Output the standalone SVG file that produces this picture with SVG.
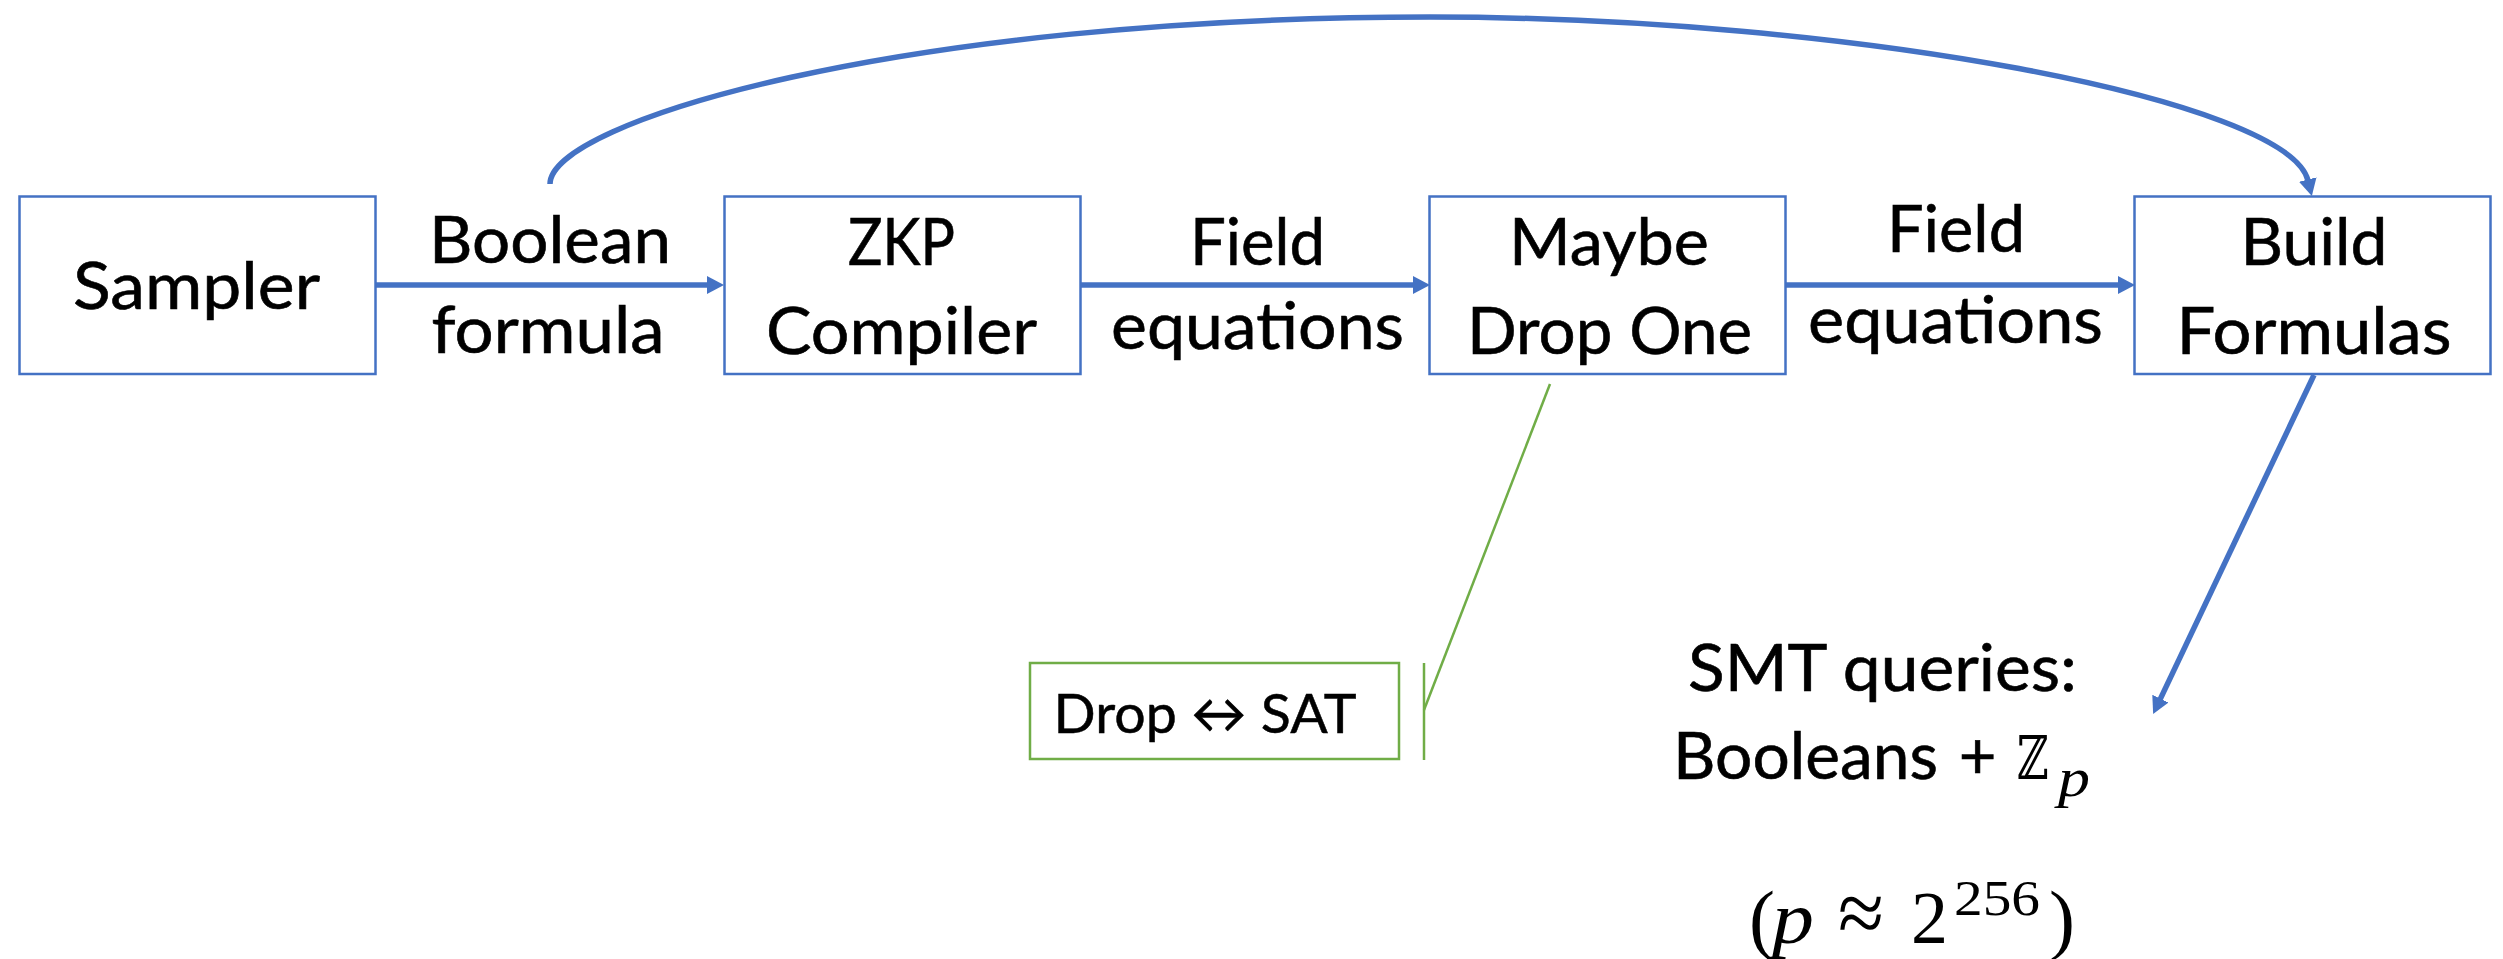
<svg xmlns="http://www.w3.org/2000/svg" width="2503" height="959" viewBox="0 0 2503 959">
<style>
.box{fill:#fff;stroke:#4472C4;stroke-width:2.5}
.lbl{font-family:Lato,"Liberation Sans",sans-serif;font-size:65px;fill:#000;stroke:#000;stroke-width:0.6;text-anchor:middle}
.conn{fill:none;stroke:#4472C4;stroke-width:5.5}
.note{fill:#fff;stroke:#70AD47;stroke-width:2.5}
.gline{fill:none;stroke:#70AD47;stroke-width:2.5}
.math{font-family:"Liberation Serif","DejaVu Serif",serif;fill:#000}
</style>
<defs>
<marker id="ah" markerUnits="userSpaceOnUse" markerWidth="20" markerHeight="20" viewBox="0 -10 20 20" refX="1" refY="0" orient="auto">
<path d="M0,-9 L17,0 L0,9 z" fill="#4472C4"/>
</marker>
</defs>
<rect width="2503" height="959" fill="#fff"/>

<g id="connectors">
<path class="conn" d="M376,285 L708,285" marker-end="url(#ah)"/>
<path class="conn" d="M1081,285 L1414,285" marker-end="url(#ah)"/>
<path class="conn" d="M1786,285 L2119,285" marker-end="url(#ah)"/>
<path class="conn" d="M550,184 C550,122 900,17 1430,17 C1850,17 2288,100 2308,180.5" marker-end="url(#ah)"/>
<path class="conn" d="M2314,375 L2160,699.6" marker-end="url(#ah)"/>
<path class="gline" d="M1550,384 L1424,710"/>
<path class="gline" d="M1424,663 L1424,760"/>
<text class="lbl" x="550" y="263" textLength="242" lengthAdjust="spacingAndGlyphs">Boolean</text>
<text class="lbl" x="548" y="353" textLength="233" lengthAdjust="spacingAndGlyphs">formula</text>
<text class="lbl" x="1257.5" y="265" textLength="135" lengthAdjust="spacingAndGlyphs">Field</text>
<text class="lbl" x="1257.5" y="349" textLength="293" lengthAdjust="spacingAndGlyphs">equations</text>
<text class="lbl" x="1956" y="252" textLength="138" lengthAdjust="spacingAndGlyphs">Field</text>
<text class="lbl" x="1955.5" y="343" textLength="295" lengthAdjust="spacingAndGlyphs">equations</text>
</g>

<g id="sampler">
<rect class="box" x="19.5" y="196.5" width="356" height="177.5"/>
<text class="lbl" x="196.5" y="309" textLength="247" lengthAdjust="spacingAndGlyphs">Sampler</text>
</g>

<g id="zkp-compiler">
<rect class="box" x="724.5" y="196.5" width="356" height="177.5"/>
<text class="lbl" x="901.5" y="265" textLength="107" lengthAdjust="spacingAndGlyphs">ZKP</text>
<text class="lbl" x="901.5" y="354" textLength="271" lengthAdjust="spacingAndGlyphs">Compiler</text>
</g>

<g id="maybe-drop-one">
<rect class="box" x="1429.5" y="196.5" width="356" height="177.5"/>
<text class="lbl" x="1609" y="265" textLength="200" lengthAdjust="spacingAndGlyphs">Maybe</text>
<text class="lbl" x="1609.5" y="354" textLength="285" lengthAdjust="spacingAndGlyphs">Drop One</text>
</g>

<g id="build-formulas">
<rect class="box" x="2134.5" y="196.5" width="356" height="177.5"/>
<text class="lbl" x="2314" y="265" textLength="147" lengthAdjust="spacingAndGlyphs">Build</text>
<text class="lbl" x="2314" y="354" textLength="275" lengthAdjust="spacingAndGlyphs">Formulas</text>
</g>

<g id="drop-sat-note">
<rect class="note" x="1030" y="663" width="369" height="96"/>
<text x="1053.6" y="732.7" font-family="Lato,'DejaVu Sans',sans-serif" font-size="55" fill="#000" stroke="#000" stroke-width="0.5" textLength="303" lengthAdjust="spacingAndGlyphs">Drop ↔ SAT</text>
</g>

<g id="smt-queries">
<text class="lbl" x="1882.5" y="691" textLength="389" lengthAdjust="spacingAndGlyphs">SMT queries:</text>
<text class="lbl" x="1673" y="779" style="text-anchor:start" textLength="265" lengthAdjust="spacingAndGlyphs">Booleans</text>
<text class="lbl" x="1977.5" y="779">+</text>
<text x="2017" y="779" font-family="'DejaVu Serif',serif" font-size="60" fill="#000" textLength="32" lengthAdjust="spacingAndGlyphs">ℤ</text>
<text class="math" x="2058" y="796" font-size="54" font-style="italic" textLength="32" lengthAdjust="spacingAndGlyphs">p</text>
<text class="math" x="1749" y="945" font-size="78">(</text>
<text class="math" x="1772" y="943" font-size="74" font-style="italic" textLength="42" lengthAdjust="spacingAndGlyphs">p</text>
<text class="math" x="1838" y="943" font-size="90" textLength="46" lengthAdjust="spacingAndGlyphs">≈</text>
<text class="math" x="1911" y="943" font-size="74">2</text>
<text class="math" x="1954" y="915" font-size="50" textLength="86" lengthAdjust="spacingAndGlyphs">256</text>
<text class="math" x="2049" y="945" font-size="78">)</text>
</g>
</svg>
